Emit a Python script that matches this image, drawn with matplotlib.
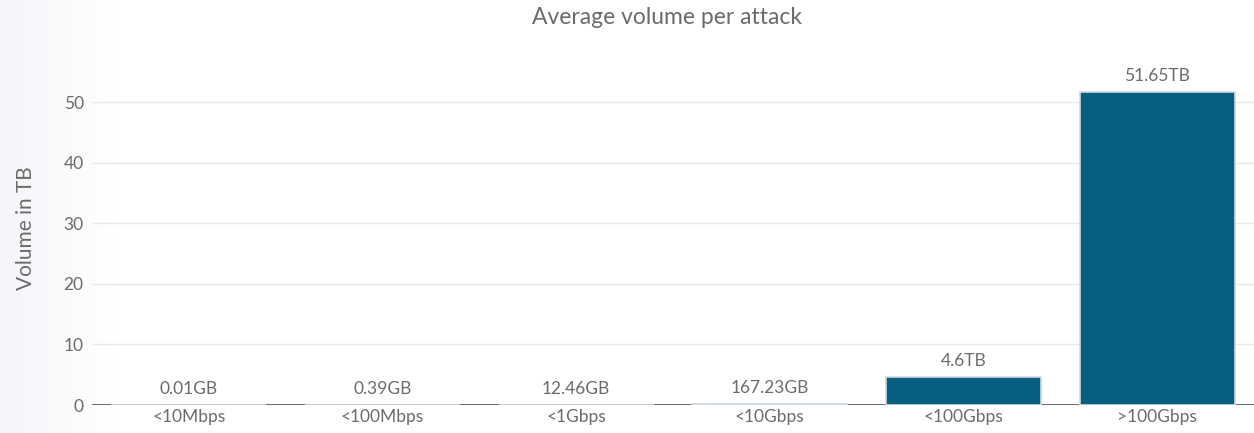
import numpy as np
import matplotlib
matplotlib.use("Agg")
import matplotlib.pyplot as plt

categories = ["<10Mbps", "<100Mbps", "<1Gbps", "<10Gbps", "<100Gbps", ">100Gbps"]
volume_tb = [0.00001, 0.00039, 0.01246, 0.16723, 4.6, 51.65]
value_labels = ["0.01GB", "0.39GB", "12.46GB", "167.23GB", "4.6TB", "51.65TB"]

plt.rcParams["font.family"] = ["Lato", "DejaVu Sans"]
text_color = "#6b6b6b"
bar_color = "#065f7f"

fig = plt.figure(figsize=(12.54, 4.33), dpi=100, facecolor="white")

# light gradient on the left edge of the background
bg = fig.add_axes([0, 0, 0.09, 1], zorder=-10)
grad = np.linspace(0, 1, 256).reshape(1, -1)
cmap = matplotlib.colors.LinearSegmentedColormap.from_list("bg", ["#f3f5f8", "#ffffff"])
bg.imshow(grad, aspect="auto", cmap=cmap, extent=[0, 1, 0, 1])
bg.axis("off")

ax = fig.add_axes([92 / 1254, (433 - 405) / 433, 1162 / 1254, (405 - 52) / 433])
ax.patch.set_alpha(0)

x = np.arange(len(categories))
ax.axhline(0, color="#444444", lw=1.1, zorder=1)
bars = ax.bar(x, volume_tb, width=0.8, color=bar_color, edgecolor="#d0d8e0", linewidth=1.2, zorder=3)

for b, lab in zip(bars, value_labels):
    ax.annotate(lab, (b.get_x() + b.get_width() / 2, b.get_height()),
                xytext=(0, 6), textcoords="offset points", ha="center", va="bottom",
                fontsize=12.5, color=text_color)

ax.set_xlim(-0.5, len(categories) - 0.5)
ax.set_ylim(0, 58.3)
ax.set_yticks([0, 10, 20, 30, 40, 50])
ax.set_xticks(x)
ax.set_xticklabels(categories)
ax.grid(axis="y", color="#e8e8e8", lw=1, zorder=0)
ax.set_axisbelow(True)
for s in ax.spines.values():
    s.set_visible(False)
ax.tick_params(axis="both", length=0, labelsize=12.5, labelcolor=text_color)
ax.tick_params(axis="y", pad=6)
ax.tick_params(axis="x", pad=3)

ax.set_ylabel("Volume in TB", fontsize=15, color=text_color, labelpad=20)
fig.text(667 / 1254, 1 - 17 / 433, "Average volume per attack", ha="center", va="center",
         fontsize=16.5, color=text_color)

fig.savefig("out.png", dpi=100, facecolor="white")
